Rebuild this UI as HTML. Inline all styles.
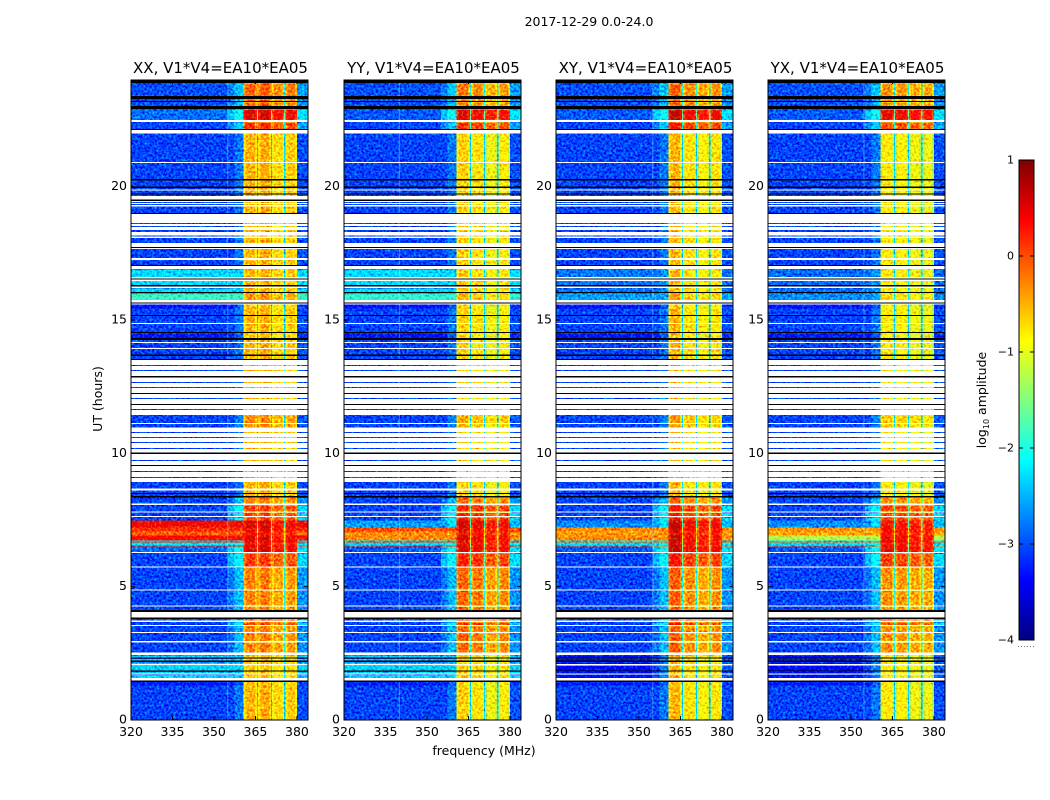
<!DOCTYPE html>
<html>
<head>
<meta charset="utf-8">
<title>2017-12-29 0.0-24.0</title>
<style>
html,body{margin:0;padding:0;background:#fff;width:1050px;height:800px;overflow:hidden}
svg{display:block}
text{font-family:"DejaVu Sans","Liberation Sans",sans-serif;fill:#000}
.cell{shape-rendering:crispEdges}
</style>
</head>
<body>
<svg id="chart" xmlns="http://www.w3.org/2000/svg" width="1050" height="800" viewBox="0 0 1050 800">
  <defs>
    <filter id="speckle" x="0" y="0" width="100%" height="100%" color-interpolation-filters="sRGB">
      <feTurbulence type="fractalNoise" baseFrequency="0.42" numOctaves="2" seed="7" result="n"/>
      <feColorMatrix in="n" type="matrix" values="0 0 0 0 0.5  1 0 0 0 0  0.25 0 0 0 0.375  0 0 0 0 1" result="g"/>
      <feComposite in="SourceGraphic" in2="g" operator="arithmetic" k1="0" k2="1" k3="1.3" k4="-0.65"/>
    </filter>
  </defs>
  <rect x="0" y="0" width="1050" height="800" fill="#fff"/>
  <text x="589" y="26" font-size="12.5" text-anchor="middle">2017-12-29 0.0-24.0</text>
  <text transform="translate(102,399) rotate(-90)" font-size="12.5" text-anchor="middle">UT (hours)</text>
  <text x="484" y="755" font-size="12.5" text-anchor="middle">frequency (MHz)</text>
  <text transform="translate(986,400) rotate(-90)" font-size="12.5" text-anchor="middle">log<tspan font-size="8" dy="3">10</tspan><tspan dy="-3"> amplitude</tspan></text>
  <g id="panels"></g>
  <g id="colorbar"></g>
</svg>
<script>
// ---- categories ----
const panelTitles = ["XX, V1*V4=EA10*EA05", "YY, V1*V4=EA10*EA05", "XY, V1*V4=EA10*EA05", "YX, V1*V4=EA10*EA05"];
const freqTicks = [320, 335, 350, 365, 380];
const hourTicks = [0, 5, 10, 15, 20];
const colorTicks = [-4, -3, -2, -1, 0, 1];

// ---- frequency channels (MHz) and what each one shows ----
const freqEdges = [320, 355, 357.5, 360.6, 361.4, 364.9, 365.6, 366, 366.8, 370, 370.7, 371, 371.7, 374.8, 375.4, 375.8, 376.6, 379.3, 380.1, 384];
// 0 background, 1 outer wing, 2 inner wing, 3 window edge, 4 window centre, 5 gap, 6 right side
const segRole = [0, 1, 2, 3, 4, 3, 5, 3, 4, 3, 5, 3, 4, 3, 5, 3, 4, 3, 6];
const segWindow = [0, 0, 0, 0, 0, 0, 0, 1, 1, 1, 1, 2, 2, 2, 2, 3, 3, 3, 0];

// ---- narrow interference channels seen in each panel (MHz) ----
const rfiXX = [355];
const rfiYY = [340];
const rfiXY = [355];
const rfiYX = [354.7];
const panelRfi = [rfiXX, rfiYY, rfiXY, rfiYX];

// ---- time rows: edges in UT hours; state indexes the level tables, W/K are flagged rows ----
const W = -1, K = -2;
const hourEdges = [0,1.31,1.43,1.48,1.58,1.71,1.74,1.82,1.86,2.04,2.10,2.18,2.23,2.31,2.34,2.44,2.53,2.91,2.96,3.26,3.30,3.53,3.56,3.68,3.73,3.79,3.84,4.05,4.13,4.26,4.29,4.86,4.89,5.72,5.76,6.26,6.30,6.41,6.53,6.56,6.68,6.71,6.75,6.94,7.09,7.24,7.50,7.61,7.65,7.78,7.82,8.06,8.12,8.34,8.40,8.48,8.51,8.61,8.68,8.93,9.08,9.11,9.30,9.34,9.53,9.56,9.71,9.75,9.98,10.03,10.16,10.20,10.39,10.43,10.58,10.61,10.76,10.80,10.97,11.10,11.14,11.44,11.63,11.66,11.81,11.85,12.04,12.08,12.23,12.26,12.45,12.49,12.64,12.68,12.84,12.90,13.09,13.13,13.28,13.31,13.50,13.54,13.65,13.71,13.91,13.95,14.14,14.18,14.25,14.33,14.51,14.55,14.85,14.89,15.15,15.19,15.45,15.60,15.62,15.66,15.75,16.01,16.05,16.20,16.25,16.31,16.47,16.53,16.56,16.62,16.91,17.03,17.06,17.25,17.33,17.66,17.70,17.74,17.89,18.08,18.13,18.17,18.30,18.38,18.49,18.53,18.60,18.64,18.98,19.01,19.25,19.31,19.35,19.38,19.43,19.47,19.51,19.65,19.73,19.75,19.85,19.90,19.95,20.00,20.24,20.28,20.89,20.93,21.99,22.13,22.16,22.43,22.50,22.91,23.03,23.18,23.21,23.29,23.40,23.89,24];
const rowStates = [0,1,K,W,2,W,2,K,2,W,2,K,2,K,2,W,3,W,3,W,3,W,17,W,17,K,W,K,3,W,3,W,3,W,17,W,4,4,5,13,5,13,7,6,15,14,17,W,17,W,17,W,3,K,0,K,0,W,0,W,10,W,10,W,K,W,10,W,K,W,10,W,10,W,10,W,10,W,11,W,11,W,10,W,K,W,10,W,K,W,10,W,10,W,K,W,10,W,10,W,K,0,K,0,W,0,W,0,K,1,K,0,W,0,K,0,1,W,K,W,8,K,9,W,K,9,W,K,W,9,W,K,0,W,0,W,K,W,0,W,10,W,10,W,10,W,10,W,K,0,W,0,W,0,W,K,W,0,K,0,W,0,K,0,K,0,W,0,W,K,16,W,4,K,12,K,12,K,12,K];

// ---- log10 amplitude per state, per polarisation (background, 320-355 MHz) ----
const bgXX = [-3.05,-3.3,-2.35,-3.05,-2.85,0.25,-0.1,0.4,-1.85,-2.3,-3.1,-3.05,-3.0,-2.2,0.45,0.15,-3.05,-3.05];
const bgYY = [-3.05,-3.3,-2.35,-3.05,-2.95,0.1,-0.3,-0.3,-1.9,-2.3,-3.1,-3.05,-3.0,-2.3,-2.6,0.0,-3.05,-3.05];
const bgXY = [-3.05,-3.3,-3.4,-3.05,-2.95,-0.1,-0.4,-0.3,-2.6,-2.8,-3.1,-3.05,-3.0,-2.3,-2.7,-0.3,-3.05,-3.05];
const bgYX = [-3.05,-3.3,-3.4,-3.05,-2.95,-0.1,-0.45,-1.2,-2.7,-2.85,-3.1,-3.05,-3.0,-2.3,-2.7,-0.35,-3.05,-3.05];
// ---- log10 amplitude per state, per polarisation (spectral windows) ----
const swXX = [-0.5,-0.6,-0.6,-0.25,0.55,0.5,0.35,0.55,-0.35,-0.5,-0.45,-0.3,-0.1,0.45,0.55,0.5,0.15,0.1];
const swYY = [-0.75,-0.8,-0.7,-0.2,0.45,0.45,0.35,0.5,-0.6,-0.7,-0.65,-0.55,-0.3,0.4,0.5,0.45,0.1,0.15];
const swXY = [-0.7,-0.8,-0.7,-0.25,0.5,0.45,0.35,0.5,-0.6,-0.7,-0.65,-0.55,-0.25,0.4,0.5,0.45,0.15,0.15];
const swYX = [-0.85,-0.9,-0.85,-0.35,0.45,0.4,0.3,0.45,-0.75,-0.85,-0.8,-0.65,-0.35,0.35,0.35,0.4,0.0,0.05];
// shoulder level next to the windows, per state
const wingLevels = [-3.05,-3.2,-3.0,-2.7,-2.3,-1.6,-1.2,-1.5,-2.8,-2.9,-3.1,-3.0,-2.65,-2.3,-2.5,-1.5,-2.6,-2.35];
// per-window offset from the row's window level
const windowOffsets = [[0,0.05,-0.2,-0.1],[0.1,0,-0.2,-0.05],[0.2,-0.05,-0.2,-0.05],[0.05,0,-0.1,-0.1]];
const panelBg = [bgXX, bgYY, bgXY, bgYX];
const panelSw = [swXX, swYY, swXY, swYX];

// ---- axes ----
const panelLefts = [131, 344, 556, 768];
const PW = 177, TOP = 80, BOT = 720;
const xOf = (left, f) => left + (f - 320) / 64 * PW;
const yOf = h => BOT - h / 24 * (BOT - TOP);
const vMin = -4, vMax = 1;
const cbTop = 160, cbBot = 640, cbL = 1019, cbR = 1034;
const cbY = v => cbBot - (v - vMin) / (vMax - vMin) * (cbBot - cbTop);

function clip(a) { return Math.max(0, Math.min(1, a)); }
function jet(v) {
  const t = clip((v - vMin) / (vMax - vMin));
  const r = clip(1.5 - Math.abs(4 * t - 3)), g = clip(1.5 - Math.abs(4 * t - 2)), b = clip(1.5 - Math.abs(4 * t - 1));
  return "rgb(" + Math.round(r * 255) + "," + Math.round(g * 255) + "," + Math.round(b * 255) + ")";
}
function cellValue(p, state, seg) {
  const bg = panelBg[p][state], sw = panelSw[p][state], wing = wingLevels[state];
  const role = segRole[seg];
  const centre = sw + windowOffsets[p][segWindow[seg]];
  if (role === 0) return bg;
  if (role === 1) return Math.max(bg, wing - 0.1);
  if (role === 2) return Math.max(bg, wing + 0.25);
  if (role === 3) return centre - 0.3;
  if (role === 4) return centre;
  if (role === 5) return Math.min(sw, wing + 0.7);
  return Math.max(bg, wing + 0.05);
}
const NS = "http://www.w3.org/2000/svg";
function mk(tag, parent, attrs) {
  const el = document.createElementNS(NS, tag);
  for (const k in attrs) el.setAttribute(k, attrs[k]);
  parent.appendChild(el);
  return el;
}
const panelsRoot = document.getElementById("panels");

panelLefts.forEach((left, p) => {
  const g = mk("g", panelsRoot, {});
  
  

  const heat = mk("g", g, { filter: "url(#speckle)" });
  
  
  const rfi = mk("g", g, {});
  
  
  const flags = mk("g", g, {});
  
  

  rowStates.forEach((state, r) => {
    const y1 = yOf(hourEdges[r + 1]), y0 = yOf(hourEdges[r]);
    if (state < 0) {
      const f = mk("rect", flags, { class: "cell", x: left, y: y1, width: PW, height: Math.max(1, y0 - y1), fill: state === W ? "#fff" : "#000" });
      
      
    }
    const st = state < 0 ? 0 : state;
    for (let s = 0; s < segRole.length; s++) {
      const x0 = xOf(left, freqEdges[s]), x1 = xOf(left, freqEdges[s + 1]);
      const c = mk("rect", heat, { class: "cell", x: x0, y: y1, width: x1 - x0 + 0.4, height: y0 - y1 + 0.4, fill: jet(cellValue(p, st, s)) });
      
      
    }
  });
  panelRfi[p].forEach(f => {
    const x = xOf(left, f);
    const l = mk("line", rfi, { x1: x, x2: x, y1: TOP, y2: BOT, stroke: "#9ff", "stroke-opacity": 0.4, "stroke-width": 1 });
    
    
  });

  const frame = mk("rect", g, { x: left, y: TOP, width: PW, height: BOT - TOP, fill: "none", stroke: "#000", "stroke-width": 1 });
  
  

  const title = mk("text", g, { x: left + PW / 2 + 1, y: 73, "font-size": 15, "text-anchor": "middle" });
  title.textContent = panelTitles[p];
  
  

  freqTicks.forEach(f => {
    const x = xOf(left, f);
    const t1 = mk("line", g, { x1: x, x2: x, y1: BOT, y2: BOT - 4, stroke: "#000" });
    
    
    const t2 = mk("line", g, { x1: x, x2: x, y1: TOP, y2: TOP + 4, stroke: "#000" });
    
    
    const lab = mk("text", g, { x: x, y: 736, "font-size": 12.5, "text-anchor": "middle" });
    lab.textContent = f;
    
    
  });
  hourTicks.forEach(h => {
    const y = yOf(h);
    const t1 = mk("line", g, { x1: left, x2: left + 4, y1: y, y2: y, stroke: "#000" });
    
    
    const t2 = mk("line", g, { x1: left + PW, x2: left + PW - 4, y1: y, y2: y, stroke: "#000" });
    
    
    const lab = mk("text", g, { x: left - 4, y: y + 3.5, "font-size": 12.5, "text-anchor": "end" });
    lab.textContent = h;
    
    
  });
});

// ---- colorbar ----
const cb = document.getElementById("colorbar");
for (let i = 0; i < 240; i++) {
  const v0 = vMin + (vMax - vMin) * i / 240, v1 = vMin + (vMax - vMin) * (i + 1) / 240;
  const s = mk("rect", cb, { class: "cell", x: cbL, y: cbY(v1), width: cbR - cbL, height: cbY(v0) - cbY(v1) + 0.5, fill: jet((v0 + v1) / 2) });
  
  
}
const cbFrame = mk("rect", cb, { x: cbL, y: cbTop, width: cbR - cbL, height: cbBot - cbTop, fill: "none", stroke: "#000", "stroke-width": 1 });


colorTicks.forEach(v => {
  const y = cbY(v);
  const a = mk("line", cb, { x1: cbL, x2: cbL + 4, y1: y, y2: y, stroke: "#000" });
  
  
  const b = mk("line", cb, { x1: cbR, x2: cbR - 4, y1: y, y2: y, stroke: "#000" });
  
  
  const lab = mk("text", cb, { x: cbL - 5, y: y + 3.5, "font-size": 11, "text-anchor": "end" });
  lab.textContent = String(v).replace("-", "\u2212");
  
  
});
const dots = mk("line", cb, { x1: 1018, x2: 1035, y1: 646.5, y2: 646.5, stroke: "#777", "stroke-width": 1, "stroke-dasharray": "1 2" });


</script>
</body>
</html>
